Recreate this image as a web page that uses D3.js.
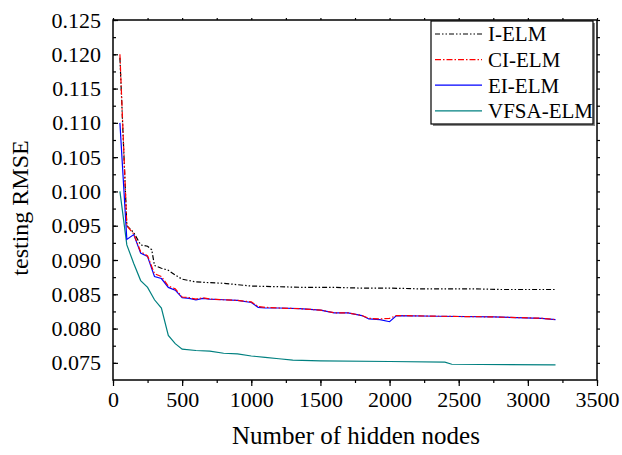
<!DOCTYPE html>
<html>
<head>
<meta charset="utf-8">
<script src="https://cdn.jsdelivr.net/npm/d3@7"></script>
<style>
  body { margin: 0; background: #fff; }
  svg text { font-family: "Liberation Serif", "Times New Roman", serif; fill: #000; }
</style>
</head>
<body>
<div id="chart"></div>
<script>
// data
const seriesNames = ["I-ELM", "CI-ELM", "EI-ELM", "VFSA-ELM"];

const iNodes = [50, 100, 150, 200, 250, 280, 300, 350, 400, 450, 500, 600, 700, 800, 900, 1000, 1200, 1400, 1600, 1800, 2000, 2200, 2400, 2600, 2800, 3000, 3200];
const iElm = [0.1195, 0.0950, 0.0940, 0.0922, 0.0920, 0.0915, 0.0892, 0.0888, 0.0885, 0.0878, 0.0872, 0.0868, 0.0867, 0.0866, 0.0864, 0.0862, 0.0861, 0.0860, 0.0860, 0.0859, 0.0859, 0.0858, 0.0858, 0.0858, 0.0857, 0.0857, 0.0857];

const eNodes = [50, 100, 150, 200, 250, 300, 350, 400, 450, 500, 550, 600, 650, 700, 800, 900, 1000, 1050, 1100, 1200, 1350, 1500, 1600, 1700, 1800, 1850, 1930, 2000, 2050, 2350, 2750, 3100, 3200];
const ciElm = [0.1200, 0.0950, 0.0938, 0.0912, 0.0906, 0.0880, 0.0876, 0.0862, 0.0858, 0.0846, 0.0845, 0.0843, 0.0845, 0.0843, 0.0842, 0.0841, 0.0839, 0.0832, 0.0831, 0.0830, 0.0829, 0.0827, 0.0823, 0.0823, 0.0819, 0.0815, 0.0814, 0.0815, 0.0819, 0.0818, 0.0817, 0.0815, 0.0813];
const eiElm = [0.1100, 0.0930, 0.0937, 0.0910, 0.0905, 0.0876, 0.0873, 0.0860, 0.0856, 0.0845, 0.0844, 0.0842, 0.0844, 0.0843, 0.0842, 0.0841, 0.0838, 0.0831, 0.0830, 0.0830, 0.0829, 0.0827, 0.0823, 0.0823, 0.0819, 0.0814, 0.0813, 0.0810, 0.0819, 0.0818, 0.0817, 0.0815, 0.0813];

const vNodes = [50, 100, 150, 200, 250, 300, 350, 400, 450, 500, 600, 700, 800, 900, 1000, 1100, 1200, 1300, 1500, 2000, 2400, 2450, 3200];
const vfsaElm = [0.1000, 0.0922, 0.0895, 0.0870, 0.0860, 0.0842, 0.0830, 0.0790, 0.0778, 0.0770, 0.0768, 0.0767, 0.0764, 0.0763, 0.0760, 0.0758, 0.0756, 0.0754, 0.0753, 0.0752, 0.0751, 0.0748, 0.0747];

const xTicks = [0, 500, 1000, 1500, 2000, 2500, 3000, 3500];
const yTicks = [0.075, 0.080, 0.085, 0.090, 0.095, 0.100, 0.105, 0.110, 0.115, 0.120, 0.125];

var margin = { top: 20, right: 25, bottom: 75, left: 113 },
    width = 597 - margin.left,
    height = 380 - margin.top;

var svg = d3.select("#chart")
    .append("svg")
    .attr("width", 622)
    .attr("height", 455)
    .append("g")
    .attr("transform", "translate(" + margin.left + "," + margin.top + ")");

var x = d3.scaleLinear().domain([0, 3500]).range([0, width]);
var y = d3.scaleLinear().domain([0.0725, 0.125]).range([height, 0]);

// bottom axis, ticks pointing out
var minorX = d3.range(0, 3501, 250);
svg.append("g")
    .attr("transform", "translate(0," + height + ")")
    .call(d3.axisBottom(x).tickValues(minorX).tickSize(3).tickFormat(""))
    .call(g => g.select(".domain").remove());
svg.append("g")
    .attr("transform", "translate(0," + height + ")")
    .call(d3.axisBottom(x).tickValues(xTicks).tickSize(6).tickPadding(5).tickFormat(d3.format("d")))
    .call(g => g.select(".domain").remove())
    .selectAll("text").style("font-size", "22px");

// top axis
svg.append("g")
    .call(d3.axisTop(x).tickValues(minorX).tickSize(2).tickFormat(""))
    .call(g => g.select(".domain").remove());

// left axis, ticks pointing in
var minorY = d3.range(0, 21).map(i => 0.075 + i * 0.0025).filter(v => v <= 0.1251);
svg.append("g")
    .call(d3.axisLeft(y).tickValues(minorY).tickSize(-3).tickFormat(""))
    .call(g => g.select(".domain").remove());
svg.append("g")
    .call(d3.axisLeft(y).tickValues(yTicks).tickSize(-5).tickPadding(12).tickFormat(d3.format(".3f")))
    .call(g => g.select(".domain").remove())
    .selectAll("text").style("font-size", "22px");

// right axis
svg.append("g")
    .attr("transform", "translate(" + width + ",0)")
    .call(d3.axisRight(y).tickValues(minorY).tickSize(3).tickFormat(""))
    .call(g => g.select(".domain").remove());

svg.selectAll(".tick line").attr("stroke", "#000").attr("stroke-width", 1.2);

// frame
svg.append("rect")
    .attr("width", width)
    .attr("height", height)
    .attr("fill", "none")
    .attr("stroke", "#000")
    .attr("stroke-width", 1.5);

// axis titles
svg.append("text")
    .attr("text-anchor", "middle")
    .attr("x", width / 2 + 1)
    .attr("y", height + 64)
    .style("font-size", "25px")
    .text("Number of hidden nodes");

svg.append("text")
    .attr("text-anchor", "middle")
    .attr("transform", "rotate(-90)")
    .attr("x", -height / 2 - 8)
    .attr("y", -margin.left + 28)
    .style("font-size", "24px")
    .text("testing RMSE");

// lines
var series = [
    { name: seriesNames[0], nodes: iNodes, vals: iElm, color: "#000000", dash: "5,2,1.5,2,1.5,2" },
    { name: seriesNames[1], nodes: eNodes, vals: ciElm, color: "#ff0000", dash: "6,2,1.5,2" },
    { name: seriesNames[2], nodes: eNodes, vals: eiElm, color: "#0000ff", dash: null },
    { name: seriesNames[3], nodes: vNodes, vals: vfsaElm, color: "#008080", dash: null }
];

var line = d3.line()
    .x(d => x(d[0]))
    .y(d => y(d[1]));

// draw order: teal, I-ELM, blue, red on top of blue
[3, 0, 2, 1].forEach(function (i) {
    var s = series[i];
    svg.append("path")
        .datum(s.nodes.map((n, k) => [n, s.vals[k]]))
        .attr("fill", "none")
        .attr("stroke", s.color)
        .attr("stroke-width", 1.2)
        .attr("stroke-dasharray", s.dash)
        .attr("d", line);
});

// legend
var lg = svg.append("g").attr("transform", "translate(" + (431 - margin.left) + "," + (21 - margin.top) + ")");
lg.append("rect")
    .attr("x", 2).attr("y", 2)
    .attr("width", 162).attr("height", 103)
    .attr("fill", "#888");
lg.append("rect")
    .attr("width", 162).attr("height", 103)
    .attr("fill", "#fff")
    .attr("stroke", "#000")
    .attr("stroke-width", 1.2);
series.forEach(function (s, i) {
    var yy = 13 + i * 25.6;
    lg.append("line")
        .attr("x1", 4).attr("x2", 51)
        .attr("y1", yy).attr("y2", yy)
        .attr("stroke", s.color)
        .attr("stroke-width", 1.2)
        .attr("stroke-dasharray", s.dash);
    lg.append("text")
        .attr("x", 57)
        .attr("y", yy)
        .attr("dy", "0.35em")
        .style("font-size", "21px")
        .text(s.name);
});
</script>
</body>
</html>
